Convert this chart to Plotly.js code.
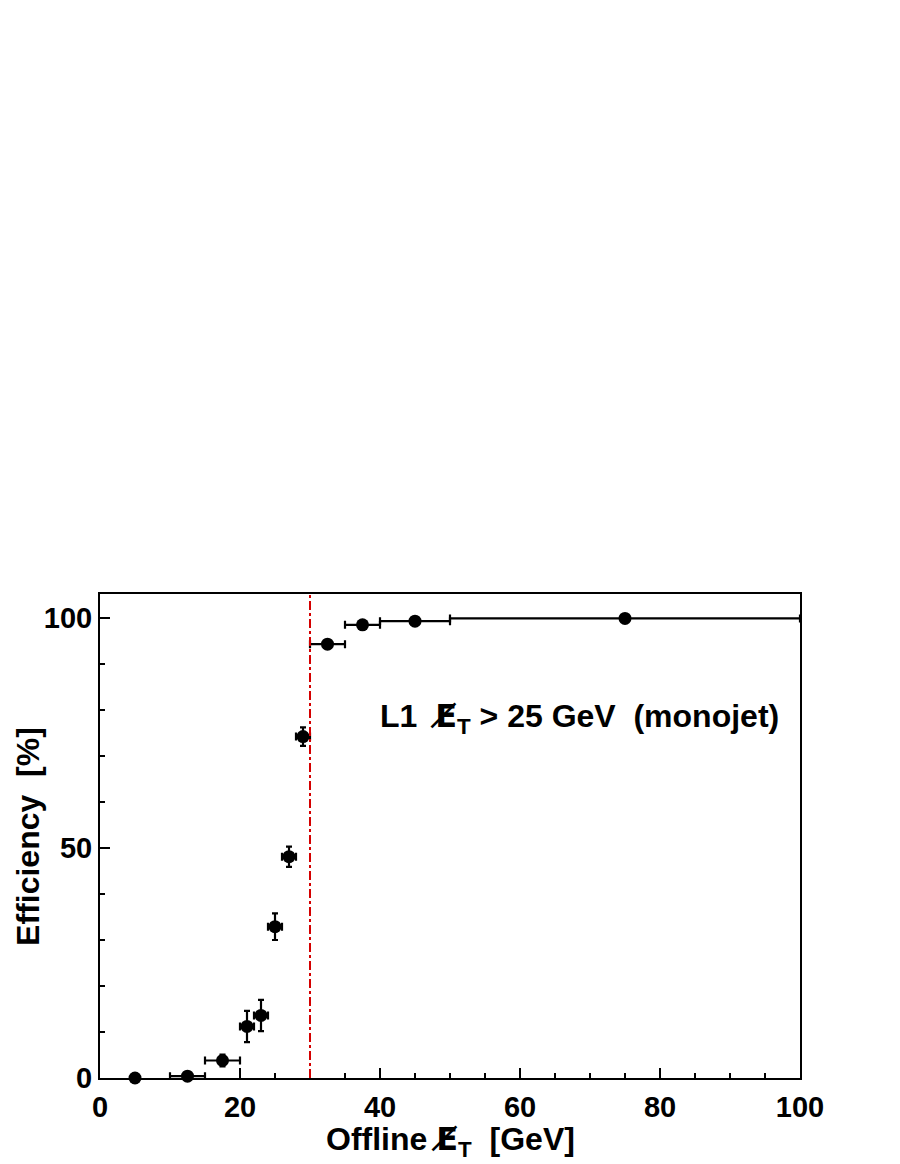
<!DOCTYPE html>
<html>
<head>
<meta charset="utf-8">
<script src="https://cdn.plot.ly/plotly-3.0.1.min.js"></script>
<style>html,body{margin:0;padding:0;background:#fff;}#chart{width:900px;height:1164px;}</style>
</head>
<body>
<div id="chart"></div>
<script>
// Data
const metCenters = [5, 12.5, 17.5, 21, 23, 25, 27, 29, 32.5, 37.5, 45, 75];
const metHalfWidths = [0, 2.5, 2.5, 1, 1, 1, 1, 1, 2.5, 2.5, 5, 25];
const efficiency = [0, 0.4, 3.8, 11.2, 13.6, 32.9, 48.1, 74.2, 94.3, 98.5, 99.3, 99.9];
const effErrors = [0, 0.3, 1.3, 3.4, 3.4, 2.9, 2.2, 2.0, 0.3, 0.2, 0.1, 0.05];
const thresholdLine = 30;
const xTickVals = [0, 20, 40, 60, 80, 100];
const yTickVals = [0, 50, 100];

const FONT = "Liberation Sans, Arial, Helvetica, sans-serif";
const NB = "\u00a0";
const METSYM = "<span style=\"font-family:'DejaVu Sans'\">E\u0338</span>";

const trace = {
  x: metCenters,
  y: efficiency,
  type: 'scatter',
  mode: 'markers',
  cliponaxis: false,
  marker: {color: '#000', size: 13, symbol: 'circle'},
  error_x: {type: 'data', array: metHalfWidths, visible: true, color: '#000', thickness: 2.2, width: 4},
  error_y: {type: 'data', array: effErrors, visible: true, color: '#000', thickness: 2.2, width: 3},
  showlegend: false,
  hoverinfo: 'x+y'
};

const layout = {
  width: 900,
  height: 1164,
  paper_bgcolor: '#fff',
  plot_bgcolor: '#fff',
  margin: {l: 100, r: 100, t: 594, b: 86},
  showlegend: false,
  xaxis: {
    range: [0, 100],
    tickvals: xTickVals,
    ticktext: xTickVals.map(String),
    ticks: 'inside', ticklen: 10, tickwidth: 2, tickcolor: '#000',
    minor: {dtick: 5, tick0: 0, ticks: 'inside', ticklen: 5, tickwidth: 2, tickcolor: '#000', showgrid: false},
    showline: true, linecolor: '#000', linewidth: 2, mirror: true,
    showgrid: false, zeroline: false,
    tickfont: {family: FONT, size: 29, color: '#000', weight: 'bold'},
    ticklabelstandoff: 2
  },
  yaxis: {
    range: [0, 105.2],
    tickvals: yTickVals,
    ticktext: yTickVals.map(String),
    ticks: 'inside', ticklen: 10, tickwidth: 2, tickcolor: '#000',
    minor: {dtick: 10, tick0: 0, ticks: 'inside', ticklen: 5, tickwidth: 2, tickcolor: '#000', showgrid: false},
    showline: true, linecolor: '#000', linewidth: 2, mirror: true,
    showgrid: false, zeroline: false,
    tickfont: {family: FONT, size: 29, color: '#000', weight: 'bold'}
  },
  shapes: [{
    type: 'line', xref: 'x', yref: 'paper',
    x0: thresholdLine, x1: thresholdLine, y0: 0, y1: 1,
    line: {color: '#d40000', width: 2, dash: 'dashdot'}
  }],
  annotations: [
    {
      text: 'L1' + NB + NB + METSYM + '<sub>T</sub> > 25 GeV' + NB + NB + '(monojet)',
      xref: 'x', yref: 'y', x: 39.7, y: 78.3,
      xanchor: 'left', yanchor: 'middle', showarrow: false,
      font: {family: FONT, size: 32, color: '#000', weight: 'bold'}
    },
    {
      text: 'Offline ' + METSYM + '<sub>T</sub>' + NB + NB + '[GeV]',
      xref: 'paper', yref: 'paper', x: 0.5, y: -0.083,
      xanchor: 'center', yanchor: 'top', showarrow: false,
      font: {family: FONT, size: 32, color: '#000', weight: 'bold'}
    },
    {
      text: 'Efficiency' + NB + NB + '[%]',
      xref: 'paper', yref: 'paper', x: -0.103, y: 0.5,
      xanchor: 'center', yanchor: 'middle', textangle: -90, showarrow: false,
      font: {family: FONT, size: 32, color: '#000', weight: 'bold'}
    }
  ]
};

Plotly.newPlot('chart', [trace], layout, {displayModeBar: false, staticPlot: true});
</script>
</body>
</html>
